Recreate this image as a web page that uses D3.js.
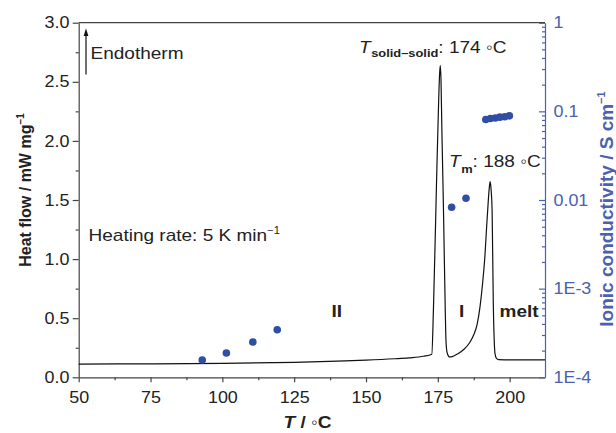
<!DOCTYPE html>
<html><head><meta charset="utf-8">
<script src="https://cdn.jsdelivr.net/npm/d3@7"></script>
<style>
body{margin:0;background:#fff}
svg{display:block}
text{font-family:"Liberation Sans",Arial,Helvetica,sans-serif}
</style>
</head><body>
<svg id="chart" width="616" height="433"></svg>
<script>
// ---- data ----
const dscT  = [50, 75, 100, 125, 140, 150, 160, 165, 170, 172.9, 173.5, 174.5, 175.3, 175.6, 175.85, 176.1, 176.4, 176.9, 177.3, 177.6, 177.85, 178.2, 178.7, 179.2, 180, 182, 184, 186, 187.5, 188.7, 189.7, 190.6, 191.4, 192.0, 192.5, 192.9, 193.2, 193.5, 193.9, 194.3, 194.6, 194.9, 195.4, 196.2, 200, 212.3];
const dscHF = [0.112, 0.114, 0.118, 0.127, 0.137, 0.145, 0.157, 0.165, 0.178, 0.195, 0.6, 1.6, 2.35, 2.56, 2.64, 2.52, 2.1, 1.5, 0.95, 0.55, 0.3, 0.21, 0.18, 0.172, 0.175, 0.2, 0.235, 0.29, 0.36, 0.45, 0.6, 0.8, 1.03, 1.28, 1.47, 1.6, 1.655, 1.6, 1.4, 0.63, 0.33, 0.2, 0.16, 0.15, 0.148, 0.148];
const condT = [93.0, 101.4, 110.6, 119.1, 179.8, 184.8, 191.7, 193.3, 195.0, 196.6, 198.3, 199.9];
const condS = [1.57e-4, 1.88e-4, 2.5e-4, 3.44e-4, 8.27e-3, 1.045e-2, 0.081, 0.083, 0.084, 0.086, 0.087, 0.089];
const xTicks = [50, 75, 100, 125, 150, 175, 200];
const xMinor = [62.5, 87.5, 112.5, 137.5, 162.5, 187.5];
const yTicks = [0, 0.5, 1.0, 1.5, 2.0, 2.5, 3.0];
const yTickLabels = ["0.0", "0.5", "1.0", "1.5", "2.0", "2.5", "3.0"];
const yMinor = [0.25, 0.75, 1.25, 1.75, 2.25, 2.75];
const rTicks = [1e-4, 1e-3, 1e-2, 1e-1, 1];
const rTickLabels = ["1E-4", "1E-3", "0.01", "0.1", "1"];

// ---- layout ----
const L = 78.7, R = 545, T = 22.7, B = 377.3;
const SX = 1.12; // horizontal text stretch seen in reference
const axisCol = "#444", textCol = "#222", blue = "#4a61b0", dotCol = "#2f4ea4";

const svg = d3.select("#chart");
const x = d3.scaleLinear().domain([50, 212.3]).range([L, R]);
const y = d3.scaleLinear().domain([0, 3]).range([B, T]);
const yr = d3.scaleLog().domain([1e-4, 1]).range([B, T]);

// minor log ticks
const rMinor = [];
for (let k = -4; k < 0; k++) for (let m = 2; m <= 9; m++) rMinor.push(m * Math.pow(10, k));

function styleAxis(g, col) {
  g.selectAll("path,line").attr("stroke", col).attr("stroke-width", 1.2);
}

// bottom axis
const gx = svg.append("g").attr("transform", `translate(0,${B})`)
  .call(d3.axisBottom(x).tickValues(xTicks).tickSize(5).tickSizeOuter(0).tickPadding(9.4).tickFormat(d3.format("d")));
styleAxis(gx, axisCol);
gx.selectAll("text").attr("fill", textCol).attr("font-size", 16)
  .attr("font-family", "Liberation Sans, Arial, sans-serif")
  .attr("transform", `scale(${SX},1)`);
const gxm = svg.append("g").attr("transform", `translate(0,${B})`)
  .call(d3.axisBottom(x).tickValues(xMinor).tickSize(3).tickSizeOuter(0).tickFormat(""));
styleAxis(gxm, axisCol);
gxm.select(".domain").remove();

// left axis
const gy = svg.append("g").attr("transform", `translate(${L},0)`)
  .call(d3.axisLeft(y).tickValues(yTicks).tickSize(6).tickSizeOuter(0).tickFormat((d, i) => yTickLabels[i]));
styleAxis(gy, axisCol);
gy.selectAll("text").attr("fill", textCol).attr("font-size", 16)
  .attr("font-family", "Liberation Sans, Arial, sans-serif")
  .attr("x", -9.2 / SX).attr("transform", `scale(${SX},1)`);
const gym = svg.append("g").attr("transform", `translate(${L},0)`)
  .call(d3.axisLeft(y).tickValues(yMinor).tickSize(3).tickSizeOuter(0).tickFormat(""));
styleAxis(gym, axisCol);
gym.select(".domain").remove();

// right axis (log, blue)
const gr = svg.append("g").attr("transform", `translate(${R},0)`)
  .call(d3.axisRight(yr).tickValues(rTicks).tickSize(-6).tickSizeOuter(0).tickFormat((d, i) => rTickLabels[i]));
styleAxis(gr, blue);
gr.selectAll("text").attr("fill", blue).attr("font-size", 16)
  .attr("font-family", "Liberation Sans, Arial, sans-serif")
  .attr("x", 8.5 / SX).attr("transform", `scale(${SX},1)`);
const grm = svg.append("g").attr("transform", `translate(${R},0)`)
  .call(d3.axisRight(yr).tickValues(rMinor).tickSize(-3).tickSizeOuter(0).tickFormat(""));
styleAxis(grm, blue);
grm.select(".domain").remove();

// top frame
svg.append("line").attr("x1", L).attr("x2", R).attr("y1", T).attr("y2", T)
  .attr("stroke", axisCol).attr("stroke-width", 1.2);

// DSC curve
const dsc = dscT.map((t, i) => [t, dscHF[i]]);
svg.append("path").datum(dsc)
  .attr("fill", "none").attr("stroke", "#111").attr("stroke-width", 1.2)
  .attr("d", d3.line().x(d => x(d[0])).y(d => y(d[1])).curve(d3.curveMonotoneX));

// conductivity points
svg.append("g").selectAll("circle").data(condT.map((t, i) => [t, condS[i]])).join("circle")
  .attr("cx", d => x(d[0])).attr("cy", d => yr(d[1])).attr("r", 3.8).attr("fill", dotCol);

// ---- text helpers ----
function txt(px, py, size, opts = {}) {
  const t = svg.append("text")
    .attr("transform", `translate(${px},${py}) scale(${SX},1)`)
    .attr("font-size", size).attr("fill", opts.fill || textCol)
    .attr("text-anchor", opts.anchor || "start")
    .attr("font-weight", opts.weight || "normal");
  return t;
}

// Endotherm arrow + label
svg.append("line").attr("x1", 86).attr("x2", 86).attr("y1", 74.5).attr("y2", 34)
  .attr("stroke", "#111").attr("stroke-width", 1.2);
svg.append("path").attr("d", "M83.6,36 L86,28.5 L88.4,36 Z").attr("fill", "#111");
txt(90.5, 59, 17).text("Endotherm");

// Heating rate
const hr = txt(88.5, 240.7, 17);
hr.append("tspan").text("Heating rate: 5 K min");
hr.append("tspan").attr("font-size", 10).attr("dy", -7).text("\u22121");

// T solid-solid
const ts = txt(359, 53.3, 17);
ts.append("tspan").attr("font-style", "italic").text("T");
ts.append("tspan").attr("font-size", 11.5).attr("font-weight", "bold").attr("dy", 4).attr("dx", 0.5).text("solid\u2013solid");
ts.append("tspan").attr("dy", -4).text(": 174 \u25E6C");

// T m
const tm = txt(449, 166.7, 17);
tm.append("tspan").attr("font-style", "italic").text("T");
tm.append("tspan").attr("font-size", 11.5).attr("font-weight", "bold").attr("dy", 6.5).attr("dx", 0.5).text("m");
tm.append("tspan").attr("dy", -6.5).text(": 188 \u25E6C");

// phase labels
txt(x(139.8), 316.7, 17, {anchor: "middle", weight: "bold"}).text("II");
txt(x(183.3), 316.7, 17, {anchor: "middle", weight: "bold"}).text("I");
txt(499.5, 316.7, 17, {weight: "bold"}).text("melt");

// x axis title
const xt = txt(307.5, 427.5, 17, {anchor: "middle", weight: "bold"});
xt.append("tspan").attr("font-style", "italic").text("T");
xt.append("tspan").text(" / \u25E6C");

// left y title
const lt = svg.append("text").attr("transform", "translate(31,190) rotate(-90)")
  .attr("text-anchor", "middle").attr("font-size", 16).attr("font-weight", "bold").attr("fill", textCol);
lt.append("tspan").text("Heat flow / mW mg");
lt.append("tspan").attr("font-size", 10).attr("dy", -7).text("\u22121");

// right y title
const rt = svg.append("text").attr("transform", "translate(613,209) rotate(-90)")
  .attr("text-anchor", "middle").attr("font-size", 19).attr("font-weight", "bold").attr("fill", blue);
rt.append("tspan").text("Ionic conductivity / S cm");
rt.append("tspan").attr("font-size", 11).attr("dy", -8).text("\u22121");
</script>
</body></html>
